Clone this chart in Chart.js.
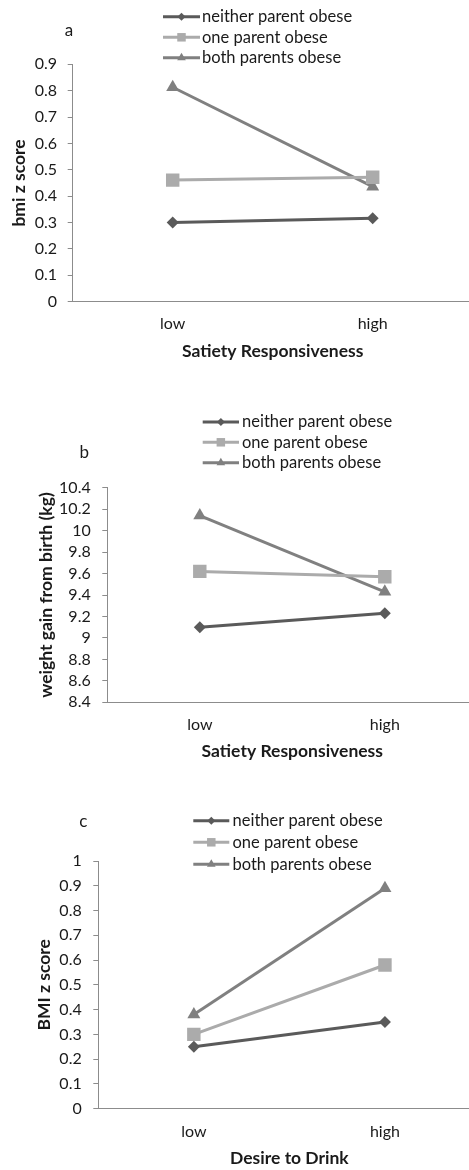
<!DOCTYPE html>
<html>
<head>
<meta charset="utf-8">
<script src="https://cdn.jsdelivr.net/npm/chart.js@4.4.0/dist/chart.umd.min.js"></script>
<style>
  body { margin: 0; background: #fff; overflow: hidden; width: 469px; height: 1170px; }
  canvas { position: absolute; left: 0; }
</style>
</head>
<body>
<canvas id="chartA" width="490" height="380" style="top:0px"></canvas>
<canvas id="chartB" width="490" height="390" style="top:380px"></canvas>
<canvas id="chartC" width="490" height="390" style="top:780px"></canvas>
<script>
const categories = ['low', 'high'];
const seriesNames = ['neither parent obese', 'one parent obese', 'both parents obese'];

// panel a: bmi z score by satiety responsiveness
const neitherA = [0.30, 0.316];
const oneA = [0.461, 0.472];
const bothA = [0.813, 0.436];

// panel b: weight gain from birth (kg) by satiety responsiveness
const neitherB = [9.10, 9.23];
const oneB = [9.62, 9.57];
const bothB = [10.14, 9.43];

// panel c: BMI z score by desire to drink
const neitherC = [0.25, 0.35];
const oneC = [0.30, 0.58];
const bothC = [0.38, 0.89];

const FONT = 'Lato, "Open Sans", sans-serif';
const TEXT = '#1a1a1a';
const colors = ['#5a5a5a', '#ababab', '#808080'];
const styles = ['rectRot', 'rect', 'triangle'];
const radii = [6, 9.5, 7.5];
const legendRadii = [4, 6, 5];

Chart.defaults.font.family = FONT;
Chart.defaults.color = TEXT;

const legendPlugin = {
  id: 'sideLegend',
  afterDraw(chart) {
    const o = chart.options.plugins.sideLegend;
    const ctx = chart.ctx;
    ctx.save();
    chart.data.datasets.forEach((ds, i) => {
      const y = o.rows[i];
      ctx.strokeStyle = ds.borderColor;
      ctx.fillStyle = ds.borderColor;
      ctx.lineWidth = 3;
      ctx.beginPath();
      ctx.moveTo(o.x0, y);
      ctx.lineTo(o.x1, y);
      ctx.stroke();
      Chart.helpers.drawPoint(ctx, { pointStyle: ds.pointStyle, radius: legendRadii[i], rotation: 0, borderWidth: 0 }, (o.x0 + o.x1) / 2, y);
      ctx.fillStyle = TEXT;
      ctx.font = '16.5px ' + FONT;
      ctx.textAlign = 'left';
      ctx.textBaseline = 'middle';
      ctx.fillText(ds.label, o.tx, y);
    });
    ctx.font = '17px ' + FONT;
    ctx.textAlign = 'center';
    ctx.textBaseline = 'middle';
    ctx.fillStyle = TEXT;
    ctx.fillText(o.letter, o.lx, o.ly);
    ctx.restore();
  }
};

function makePanel(id, series, opt) {
  const canvas = document.getElementById(id);
  const W = canvas.width, H = canvas.height;
  return new Chart(canvas, {
    type: 'line',
    data: {
      labels: categories,
      datasets: series.map((data, i) => ({
        label: seriesNames[i],
        data,
        borderColor: colors[i],
        backgroundColor: colors[i],
        borderWidth: 3,
        pointStyle: styles[i],
        pointRadius: radii[i],
        pointBorderWidth: 0,
        tension: 0
      }))
    },
    options: {
      responsive: false,
      animation: false,
      layout: { padding: { left: 0, top: opt.top, right: W - opt.right, bottom: 0 } },
      plugins: {
        legend: { display: false },
        tooltip: { enabled: false },
        sideLegend: opt.legend
      },
      scales: {
        x: {
          offset: true,
          grid: { display: false, drawTicks: false },
          border: { display: true, color: '#8c8c8c', width: 1 },
          ticks: { font: { size: 16 }, padding: opt.xTickPad },
          title: { display: true, text: opt.xTitle, font: { size: 17.5, weight: 'bold' }, padding: { top: 0, bottom: opt.xTitlePad } },
          afterFit(scale) { scale.height = H - opt.bottom; }
        },
        y: {
          min: opt.min,
          max: opt.max,
          grid: { display: true, drawOnChartArea: false, drawTicks: true, tickLength: 5, color: '#8c8c8c' },
          border: { display: true, color: '#8c8c8c', width: 1 },
          ticks: {
            stepSize: opt.step,
            autoSkip: false,
            font: { size: 16 },
            padding: opt.yTickPad,
            callback: v => String(Number(v.toFixed(1)))
          },
          title: { display: true, text: opt.yTitle, font: { size: 17.5, weight: 'bold' }, padding: { top: opt.yTitlePad, bottom: 0 } },
          afterFit(scale) { scale.width = opt.left; }
        }
      }
    },
    plugins: [legendPlugin]
  });
}

makePanel('chartA', [neitherA, oneA, bothA], {
  left: 72.7, top: 64.3, right: 472.7, bottom: 301.7,
  min: 0, max: 0.9, step: 0.1,
  yTitle: 'bmi z score', xTitle: 'Satiety Responsiveness',
  yTickPad: 10.7, yTitlePad: 8.5, xTickPad: 12.7, xTitlePad: 18.5,
  legend: { x0: 163, x1: 200, tx: 202, rows: [16.7, 37.3, 57.7], letter: 'a', lx: 69, ly: 31 }
});

makePanel('chartB', [neitherB, oneB, bothB], {
  left: 107.3, top: 107.7, right: 477.3, bottom: 322.3,
  min: 8.4, max: 10.4, step: 0.2,
  yTitle: 'weight gain from birth (kg)', xTitle: 'Satiety Responsiveness',
  yTickPad: 11.6, yTitlePad: 35.5, xTickPad: 13.1, xTitlePad: 7.8,
  legend: { x0: 202.7, x1: 239, tx: 242, rows: [42, 62.3, 82.7], letter: 'b', lx: 84.3, ly: 72.7 }
});

makePanel('chartC', [neitherC, oneC, bothC], {
  left: 98.3, top: 81, right: 481.6, bottom: 328.7,
  min: 0, max: 1, step: 0.1,
  yTitle: 'BMI z score', xTitle: 'Desire to Drink',
  yTickPad: 11.6, yTitlePad: 33.8, xTickPad: 13.4, xTitlePad: 1.2,
  legend: { x0: 193.3, x1: 229.3, tx: 232.5, rows: [40.7, 62.3, 84.3], letter: 'c', lx: 83.3, ly: 41.7 }
});
</script>
</body>
</html>
